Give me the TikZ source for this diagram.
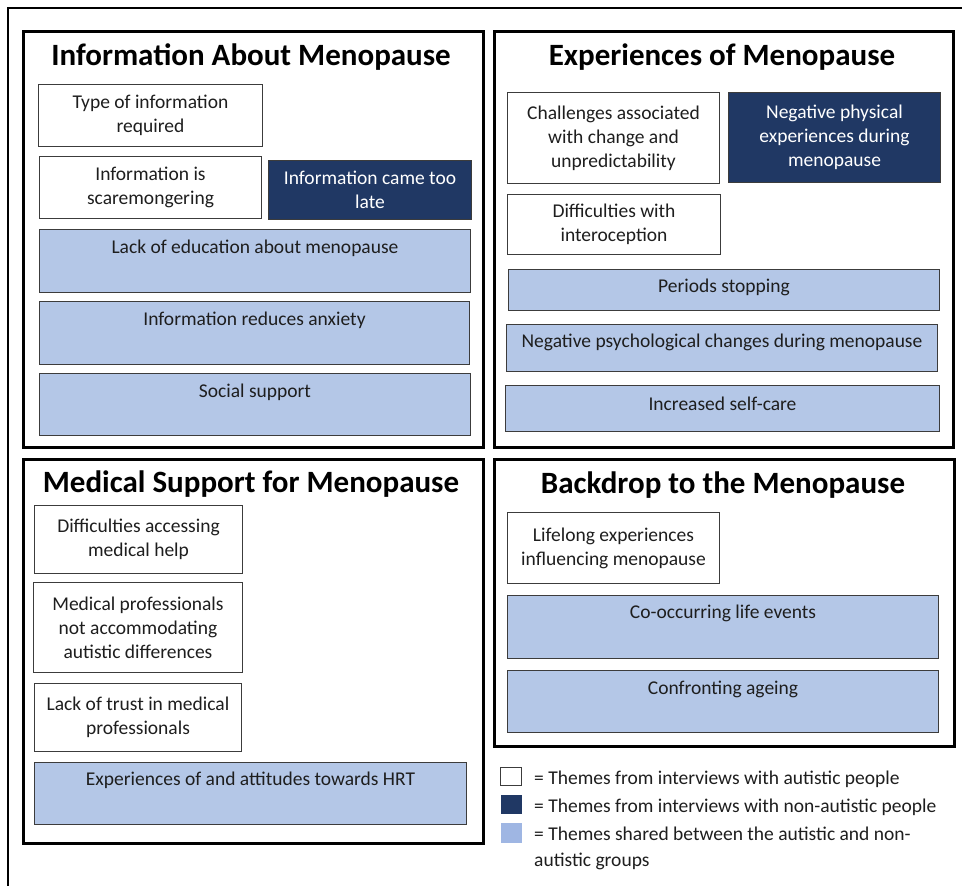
\documentclass[tikz,border=0pt]{standalone}
\usepackage{fontspec}
\setmainfont{Carlito}
\definecolor{navy}{HTML}{203864}
\definecolor{lblue}{HTML}{B4C7E7}
\definecolor{kblue}{HTML}{9FB6E3}
\definecolor{edge}{HTML}{3C3C3C}
\definecolor{ink}{HTML}{1E1E1E}
\begin{document}
\begin{tikzpicture}[x=1pt,y=-1pt,
 sec/.style={draw=black, line width=3pt, rectangle, inner sep=0pt, anchor=north west},
 item/.style={draw=edge, line width=1pt, rectangle, inner sep=0pt, anchor=north west, align=center, font=\fontsize{19.5}{24}\selectfont, text=ink},
 wbox/.style={item, fill=white},
 nbox/.style={item, fill=navy, text=white},
 bbox/.style={item, fill=lblue},
 ttl/.style={font=\fontsize{31}{36}\selectfont\bfseries, anchor=center, text=black, inner sep=0pt},
 lab/.style={font=\fontsize{19.5}{24}\selectfont, anchor=center, text=ink, inner sep=0pt},
]
\useasboundingbox (0,0) rectangle (962,886);
\fill[white] (0,0) rectangle (962,886);
\draw[line width=2pt] (962,8) -- (8,8) -- (8,886);

% Section 1
\node[sec, minimum width=460pt, minimum height=416pt] (s1) at (22,30) {};
\node[ttl] (s1t) at (251,57) {Information About Menopause};
\node[wbox, minimum width=224pt, minimum height=62pt] (a1) at (38,84) {Type of information\\required};
\node[wbox, minimum width=222pt, minimum height=62pt] (a2) at (39,156) {Information is\\scaremongering};
\node[nbox, minimum width=203pt, minimum height=59pt] (a3) at (268,160) {Information came too\\late};
\node[bbox, minimum width=431pt, minimum height=63pt] (a4) at (39,229) {};
\node[lab] (a4t) at ([yshift=-19pt]a4.north) {Lack of education about menopause};
\node[bbox, minimum width=430pt, minimum height=63pt] (a5) at (39,301) {};
\node[lab] (a5t) at ([yshift=-19pt]a5.north) {Information reduces anxiety};
\node[bbox, minimum width=431pt, minimum height=62pt] (a6) at (39,373) {};
\node[lab] (a6t) at ([yshift=-19pt]a6.north) {Social support};

% Section 2
\node[sec, minimum width=459pt, minimum height=416pt] (s2) at (493,30) {};
\node[ttl] (s2t) at (722,57) {Experiences of Menopause};
\node[wbox, minimum width=212pt, minimum height=91pt] (b1) at (507,92) {Challenges associated\\with change and\\unpredictability};
\node[nbox, minimum width=212pt, minimum height=90pt] (b2) at (728,92) {Negative physical\\experiences during\\menopause};
\node[wbox, minimum width=213pt, minimum height=60pt] (b3) at (507,194) {Difficulties with\\interoception};
\node[bbox, minimum width=431pt, minimum height=41pt] (b4) at (508,269) {};
\node[lab] (b4t) at ([yshift=-18pt]b4.north) {Periods stopping};
\node[bbox, minimum width=431pt, minimum height=47pt] (b5) at (506,324) {};
\node[lab] (b5t) at ([yshift=-18pt]b5.north) {Negative psychological changes during menopause};
\node[bbox, minimum width=434pt, minimum height=46pt] (b6) at (505,385) {};
\node[lab] (b6t) at ([yshift=-19pt]b6.north) {Increased self-care};

% Section 3
\node[sec, minimum width=460pt, minimum height=384pt] (s3) at (22,458) {};
\node[ttl] (s3t) at (251,484) {Medical Support for Menopause};
\node[wbox, minimum width=208pt, minimum height=68pt] (c1) at (34,505) {Difficulties accessing\\medical help};
\node[wbox, minimum width=209pt, minimum height=90pt] (c2) at (33,582) {Medical professionals\\not accommodating\\autistic differences};
\node[wbox, minimum width=207pt, minimum height=68pt] (c3) at (34,683) {Lack of trust in medical\\professionals};
\node[bbox, minimum width=432pt, minimum height=62pt] (c4) at (34,762) {};
\node[lab] (c4t) at ([yshift=-18pt]c4.north) {Experiences of and attitudes towards HRT};

% Section 4
\node[sec, minimum width=460pt, minimum height=287pt] (s4) at (493,458) {};
\node[ttl] (s4t) at (723,485) {Backdrop to the Menopause};
\node[wbox, minimum width=212pt, minimum height=71pt] (d1) at (507,512) {Lifelong experiences\\influencing menopause};
\node[bbox, minimum width=431pt, minimum height=63pt] (d2) at (507,595) {};
\node[lab] (d2t) at ([yshift=-18pt]d2.north) {Co-occurring life events};
\node[bbox, minimum width=431pt, minimum height=62pt] (d3) at (507,670) {};
\node[lab] (d3t) at ([yshift=-19pt]d3.north) {Confronting ageing};

% Legend
\node[wbox, minimum width=21pt, minimum height=18pt] (k1) at (500,767) {};
\node[item, draw=none, fill=navy, minimum width=21pt, minimum height=19pt] (k2) at (500,794) {};
\node[item, draw=none, fill=kblue, minimum width=21pt, minimum height=20pt] (k3) at (500,822) {};
\node[lab, anchor=west] (k1t) at (534,779) {= Themes from interviews with autistic people};
\node[lab, anchor=west] (k2t) at (534,807) {= Themes from interviews with non-autistic people};
\node[lab, anchor=west] (k3t) at (534,834) {= Themes shared between the autistic and non-};
\node[lab, anchor=west] (k3u) at (534,861) {autistic groups};
\end{tikzpicture}
\end{document}
